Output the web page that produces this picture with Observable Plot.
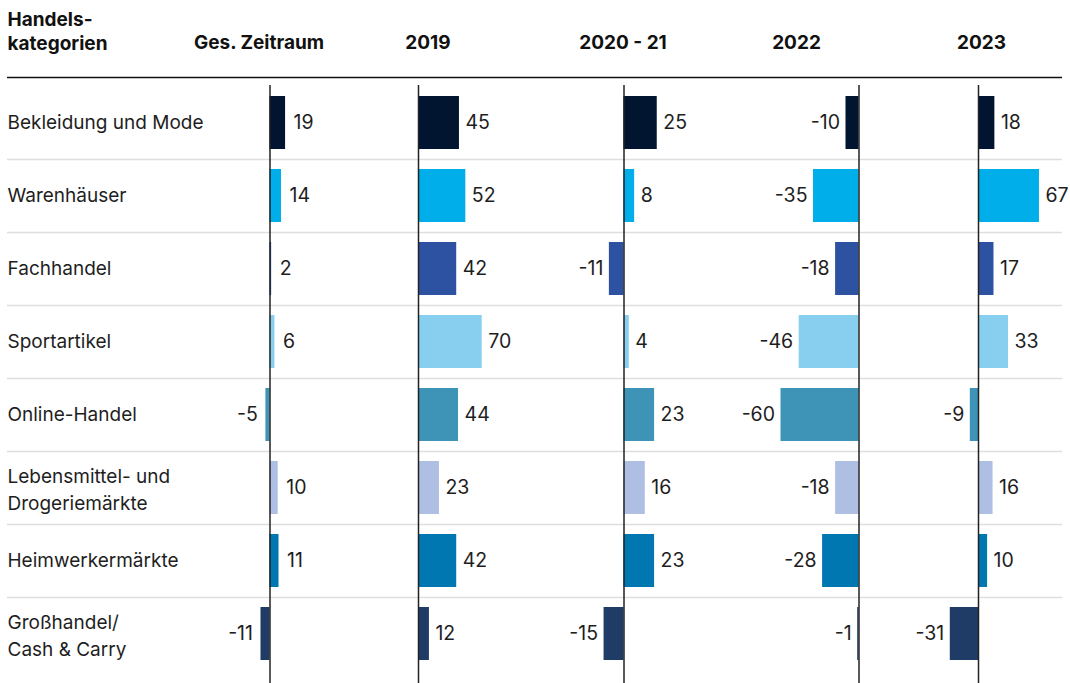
<!DOCTYPE html>
<html>
<head>
<meta charset="utf-8">
<script src="https://cdn.jsdelivr.net/npm/d3@7"></script>
<script src="https://cdn.jsdelivr.net/npm/@observablehq/plot@0.6"></script>
<style>
  html, body { margin: 0; padding: 0; background: #fff; }
  #chart { display: flex; width: 1070px; height: 683px; overflow: hidden; }
  #chart svg { display: block; overflow: visible; }
</style>
</head>
<body>
<div id="chart"></div>
<script>
// ---- data ----
const categories = [
  "Bekleidung und Mode",
  "Warenhäuser",
  "Fachhandel",
  "Sportartikel",
  "Online-Handel",
  "Lebensmittel- und\nDrogeriemärkte",
  "Heimwerkermärkte",
  "Großhandel/\nCash & Carry"
];
const periods = ["Ges. Zeitraum", "2019", "2020 - 21", "2022", "2023"];
const gesZeitraum = [19, 14, 2, 6, -5, 10, 11, -11];
const y2019      = [45, 52, 42, 70, 44, 23, 42, 12];
const y2020_21   = [25, 8, -11, 4, 23, 16, 23, -15];
const y2022      = [-10, -35, -18, -46, -60, -18, -28, -1];
const y2023      = [18, 67, 17, 33, -9, 16, 10, -31];
const series = [gesZeitraum, y2019, y2020_21, y2022, y2023];
const colors = ["#021530", "#00aee9", "#2d52a2", "#88cfef", "#3d94b6", "#aebfe3", "#0077b1", "#1f3c66"];
const headerTitle = "Handels-\nkategorien";

// ---- layout (pixels) ----
const H = 683, TOP = 85, ROWS_BOTTOM = 670;
const bw = (ROWS_BOTTOM - TOP) / categories.length;
const font = "Inter, 'Liberation Sans', sans-serif";
const labelWidth = 172;
const cols = [
  {left: 172, right: 345,  zero: 269.5, k: 0.82, head: 258.5, mr: 0, dx: 8},
  {left: 345, right: 525,  zero: 418,   k: 0.91, head: 427.5, mr: 0, dx: 6},
  {left: 525, right: 712,  zero: 623.5, k: 1.33, head: 622.5, mr: 0, dx: 6},
  {left: 712, right: 895,  zero: 858.5, k: 1.30, head: 796,   mr: 0, dx: 6},
  {left: 895, right: 1070, zero: 978,   k: 0.91, head: 981,   mr: 8, dx: 6}
];

const yScale = {type: "band", domain: categories, range: [TOP, ROWS_BOTTOM], padding: 0, axis: null};
const sepStyle = {stroke: "#dedede", strokeWidth: 1.5};
const topRule = {stroke: "#111", strokeWidth: 1.5};
const baseStyle = {fontFamily: font, fontSize: "19px", background: "transparent", overflow: "visible"};
const labelSize = 19, valueSize = 19.5, headSize = 19;

const chart = document.getElementById("chart");

// label column
chart.appendChild(Plot.plot({
  width: labelWidth, height: H,
  marginLeft: 7, marginRight: 0, marginTop: TOP, marginBottom: 0,
  style: baseStyle,
  y: yScale,
  marks: [
    Plot.ruleY(categories.slice(1), {y: d => d, dy: -bw / 2, ...sepStyle}),
    Plot.ruleY([categories[0]], {y: d => d, dy: -bw / 2 - 9, ...topRule}),
    Plot.text(categories.filter(d => !d.includes("\n")), {y: d => d, text: d => d, frameAnchor: "left",
      textAnchor: "start", lineAnchor: "middle", fontSize: labelSize, fill: "#1e1e1e"}),
    Plot.text(categories.filter(d => d.includes("\n")), {y: d => d, text: d => d, frameAnchor: "left",
      textAnchor: "start", lineAnchor: "middle", lineHeight: 1.42, dy: 0, fontSize: labelSize, fill: "#1e1e1e"}),
    Plot.text([headerTitle], {text: d => d, frameAnchor: "top-left", dy: -55, textAnchor: "start",
      lineAnchor: "middle", lineHeight: 1.22, fontSize: headSize, fontWeight: 700, fill: "#111"})
  ]
}));

// value columns
cols.forEach((c, j) => {
  const w = c.right - c.left;
  const data = categories.map((cat, i) => ({cat, value: series[j][i]}));
  chart.appendChild(Plot.plot({
    width: w, height: H,
    marginLeft: 0, marginRight: c.mr, marginTop: TOP, marginBottom: 0,
    style: baseStyle,
    x: {domain: [-(c.zero - c.left) / c.k, (c.right - c.mr - c.zero) / c.k], axis: null},
    y: yScale,
    color: {domain: categories, range: colors},
    marks: [
      Plot.ruleY(categories.slice(1), {y: d => d, dy: -bw / 2, ...sepStyle}),
      Plot.ruleY([categories[0]], {y: d => d, dy: -bw / 2 - 9, ...topRule}),
      Plot.barX(data, {x: "value", y: "cat", fill: "cat", insetTop: 10, insetBottom: 10}),
      Plot.ruleX([0], {stroke: "#222", strokeWidth: 1.5}),
      Plot.text(data.filter(d => d.value >= 0), {x: "value", y: "cat", text: d => String(d.value),
        textAnchor: "start", dx: c.dx, fontSize: valueSize, fill: "#1e1e1e"}),
      Plot.text(data.filter(d => d.value < 0), {x: "value", y: "cat", text: d => String(d.value),
        textAnchor: "end", dx: -c.dx, fontSize: valueSize, fill: "#1e1e1e"}),
      Plot.text([periods[j]], {text: d => d, frameAnchor: "top-left", dx: c.head - c.left, dy: -43,
        textAnchor: "middle", lineAnchor: "middle", fontSize: headSize, fontWeight: 700, fill: "#111"})
    ]
  }));
});
</script>
</body>
</html>
